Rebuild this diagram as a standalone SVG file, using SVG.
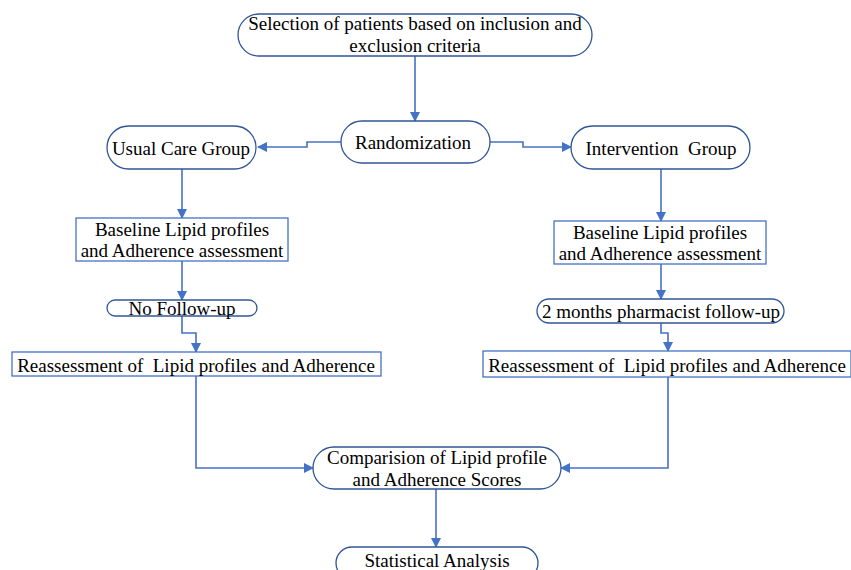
<svg xmlns="http://www.w3.org/2000/svg" width="851" height="570" viewBox="0 0 851 570">
<defs>
<style>
text{font-family:"Liberation Serif","Times New Roman",serif;font-size:19px;fill:#000;text-anchor:middle;dominant-baseline:central}
.pill{fill:#fff;stroke:#2F5597;stroke-width:1.3}
.box{fill:#fff;stroke:#4472C4;stroke-width:1.3}
.c{fill:none;stroke:#4472C4;stroke-width:1.6}
</style>
<marker id="ah" markerWidth="10" markerHeight="10" refX="9" refY="5" orient="auto" markerUnits="userSpaceOnUse">
<path d="M0,0 L10,5 L0,10 Z" fill="#4472C4"/>
</marker>
</defs>
<rect width="851" height="570" fill="#fff"/>
<g id="connectors">
<path class="c" d="M415,56 V121" marker-end="url(#ah)"/>
<path class="c" d="M341,142 H307 V147 H258" marker-end="url(#ah)"/>
<path class="c" d="M490,142 H523 V147 H571" marker-end="url(#ah)"/>
<path class="c" d="M182,169 V218" marker-end="url(#ah)"/>
<path class="c" d="M182,261 V300" marker-end="url(#ah)"/>
<path class="c" d="M182,316 V333 H196 V352" marker-end="url(#ah)"/>
<path class="c" d="M661,169 V221" marker-end="url(#ah)"/>
<path class="c" d="M661,264 V299" marker-end="url(#ah)"/>
<path class="c" d="M661,323 V333 H668 V351" marker-end="url(#ah)"/>
<path class="c" d="M196,376 V468 H313" marker-end="url(#ah)"/>
<path class="c" d="M668,377 V468 H561" marker-end="url(#ah)"/>
<path class="c" d="M436,489 V547" marker-end="url(#ah)"/>
</g>
<g id="selection">
<rect class="pill" x="238" y="14" width="354" height="42" rx="21"/>
<text x="415" y="23">Selection of patients based on inclusion and</text>
<text x="415" y="45">exclusion criteria</text>
</g>
<g id="randomization">
<rect class="pill" x="341" y="121" width="149" height="42" rx="21"/>
<text x="413" y="142">Randomization</text>
</g>
<g id="usual-care">
<rect class="pill" x="107" y="126" width="149" height="43" rx="21.5"/>
<text x="181" y="148">Usual Care Group</text>
</g>
<g id="intervention">
<rect class="pill" x="571" y="126" width="179" height="43" rx="21.5"/>
<text x="661" y="148" xml:space="preserve">Intervention  Group</text>
</g>
<g id="baseline-left">
<rect class="box" x="76" y="218" width="212" height="43"/>
<text x="182" y="229">Baseline Lipid profiles</text>
<text x="182" y="250">and Adherence assessment</text>
</g>
<g id="no-followup">
<rect class="pill" x="107" y="300" width="150" height="16" rx="8"/>
<text x="182" y="308">No Follow-up</text>
</g>
<g id="reassess-left">
<rect class="box" x="12" y="352" width="369" height="24"/>
<text x="196" y="365" xml:space="preserve">Reassessment of  Lipid profiles and Adherence</text>
</g>
<g id="baseline-right">
<rect class="box" x="554" y="221" width="212" height="43"/>
<text x="660" y="232">Baseline Lipid profiles</text>
<text x="660" y="253">and Adherence assessment</text>
</g>
<g id="pharmacist-followup">
<rect class="pill" x="537" y="299" width="247" height="24" rx="12"/>
<text x="661" y="311">2 months pharmacist follow-up</text>
</g>
<g id="reassess-right">
<rect class="box" x="483" y="351" width="368" height="26"/>
<text x="667" y="365" xml:space="preserve">Reassessment of  Lipid profiles and Adherence</text>
</g>
<g id="comparison">
<rect class="pill" x="313" y="447" width="248" height="42" rx="21"/>
<text x="437" y="457">Comparision of Lipid profile</text>
<text x="437" y="479">and Adherence Scores</text>
</g>
<g id="statistical">
<rect class="pill" x="336" y="547" width="202" height="32" rx="16"/>
<text x="437" y="560">Statistical Analysis</text>
</g>
</svg>
